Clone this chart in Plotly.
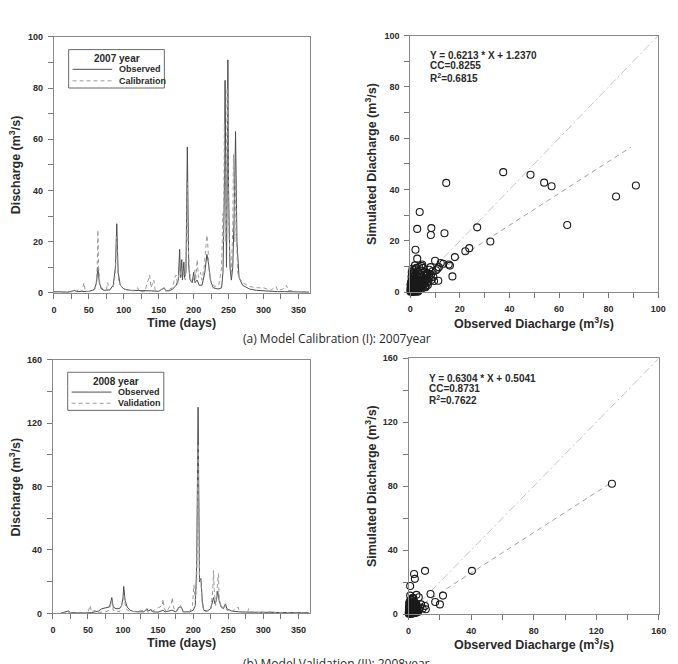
import plotly.graph_objects as go

# ---------------- DATA ----------------
# 2007 time series (day, discharge m3/s)
obs07_day = [0, 10, 20, 28, 30, 32, 40, 45, 50, 55, 58, 61, 63, 65, 68, 72, 80, 85, 88, 90, 92, 95, 100, 110, 120, 130, 140, 150, 158, 160, 165, 170, 175, 178, 180, 181, 183, 184, 186, 187, 189, 191, 193, 195, 198, 200, 202, 205, 208, 212, 216, 219, 221, 224, 228, 235, 240, 242, 244, 245, 246, 247, 248, 249, 250, 252, 254, 256, 258, 260, 262, 265, 270, 280, 290, 300, 310, 320, 330, 340, 350, 360, 365]
obs07_q = [0.5, 0.3, 0.3, 0.8, 1.0, 0.5, 0.6, 0.8, 0.6, 1.0, 1.5, 4, 10, 4, 1.5, 1.0, 1.2, 3, 10, 27, 8, 3, 1.5, 1.0, 1.0, 0.8, 0.8, 0.6, 2, 0.8, 0.8, 1.5, 3, 5, 17, 6, 13, 5, 12, 6, 8, 57, 10, 5, 4, 8, 4, 5, 3, 3, 8, 15, 12, 5, 2, 1.5, 2, 8, 40, 83, 30, 10, 40, 91, 40, 10, 5, 10, 30, 63, 20, 6, 3, 1.5, 1.0, 0.8, 0.6, 0.5, 0.5, 0.4, 0.3, 0.3, 0.3]

cal07_day = [0, 10, 20, 30, 38, 40, 43, 45, 55, 60, 62, 63, 64, 66, 70, 75, 77, 79, 85, 88, 89, 90, 91, 93, 98, 105, 115, 120, 122, 130, 136, 137, 139, 143, 145, 150, 158, 160, 170, 173, 175, 177, 180, 182, 184, 186, 188, 190, 191, 192, 194, 197, 200, 202, 203, 205, 207, 210, 212, 215, 218, 219, 220, 222, 225, 230, 236, 240, 242, 243, 244, 245, 246, 247, 248, 249, 250, 252, 254, 256, 257, 258, 259, 260, 261, 263, 265, 270, 280, 290, 300, 305, 310, 318, 320, 328, 333, 335, 340, 350, 360, 365]
cal07_q = [0.3, 0.5, 0.3, 0.5, 1.5, 0.5, 4, 0.5, 0.5, 2, 10, 24.5, 10, 3, 1.5, 1, 4, 1, 2, 8, 15, 22, 10, 4, 2, 1, 0.8, 2, 0.5, 0.5, 6, 7, 2, 5, 1, 0.8, 2, 0.8, 2, 6, 7, 3, 10, 6, 10, 8, 5, 20, 43, 20, 8, 4, 5, 9, 5, 13, 6, 8, 5, 10, 20, 22.5, 20, 10, 4, 2.5, 3, 10, 31, 20, 66, 40, 20, 30, 80, 60, 30, 12, 8, 25, 54, 40, 20, 45, 25, 8, 6, 4, 2.5, 2, 2, 1.5, 1, 2.5, 1, 1.5, 3, 1, 0.8, 0.5, 0.4, 0.4]

# 2008 time series
obs08_day = [12, 18, 22, 25, 35, 45, 55, 60, 65, 70, 75, 80, 82, 84, 86, 90, 95, 98, 100, 101, 103, 106, 110, 115, 120, 130, 134, 136, 140, 142, 150, 157, 160, 170, 175, 180, 183, 186, 195, 200, 203, 205, 207, 208, 209, 211, 213, 215, 220, 225, 228, 229, 231, 233, 235, 237, 240, 243, 246, 248, 255, 265, 280, 300, 320, 340, 360, 365]
obs08_q = [0.3, 1, 1.5, 0.5, 0.3, 0.3, 0.5, 1, 1.5, 3, 3.5, 4, 6, 10, 4, 3, 3, 5, 10, 17, 8, 4, 2, 1.2, 1, 1, 3, 1.5, 2.5, 1, 0.8, 2, 1, 2, 1, 4, 4, 1, 1, 2, 5, 30, 130, 60, 20, 22, 8, 2, 1.5, 3, 8, 10, 6, 8, 14, 8, 4, 3, 6, 3, 1.5, 1, 0.8, 0.6, 0.5, 0.4, 0.4, 0.4]

val08_day = [12, 20, 30, 50, 53, 55, 60, 62, 75, 80, 84, 86, 95, 100, 101, 104, 110, 134, 136, 140, 156, 157, 159, 162, 169, 170, 172, 175, 180, 182, 185, 195, 199, 201, 203, 205, 207, 208, 209, 211, 213, 216, 225, 228, 229, 230, 232, 235, 236, 237, 240, 245, 246, 248, 255, 264, 266, 278, 279, 281, 296, 297, 299, 312, 313, 315, 330, 350, 365]
val08_q = [0.2, 0.5, 0.3, 0.5, 5, 1, 2, 0.5, 1, 2, 8, 2, 1, 8, 12, 3, 1, 2, 0.5, 1, 5, 9, 3, 1, 6, 10, 4, 1, 3, 5, 1, 1, 5, 18, 8, 20, 107, 50, 22, 20, 5, 1, 2, 15, 27, 15, 5, 20, 25, 10, 4, 4, 5, 2, 1, 4, 1, 1, 3, 1, 0.5, 2, 0.5, 1, 2, 0.5, 0.5, 0.3, 0.3]

# 2007 scatter: observed vs simulated
sc07_obs = [37.5, 48.5, 54, 57, 83, 91, 63.3, 14.5, 3.8, 2.8, 8.5, 8.3, 13.8, 27, 32.3, 22.2, 23.8, 18, 2.1, 2.8, 10, 17, 11.3, 15.5, 16, 13.3, 11.5, 11, 8.2, 4.5, 5.2, 2.0, 7.8, 8.5, 6, 9.3, 6.5, 12.3, 1.2, 1.5,
            0.1, 0.2, 0.3, 0.4, 0.5, 0.6, 0.7, 0.8, 0.9, 1.0, 1.1, 1.2, 1.3, 1.4, 1.5, 1.6, 1.7, 1.8, 1.9, 2.0, 2.1, 2.2, 2.3, 2.4, 2.5, 2.6, 2.7, 2.8, 2.9, 3.0, 3.1, 3.2, 3.3, 3.4, 3.5, 3.6, 3.7, 3.8, 3.9, 4.0, 4.2, 4.3, 4.5, 4.7, 4.9, 5.0, 5.3, 5.5, 5.8, 6.0, 6.2, 6.5, 6.8, 7.0, 7.3, 7.6,
            0.3, 0.5, 0.2, 0.7, 0.4, 0.9, 1.0, 0.6, 0.8, 1.2, 1.7, 2.2, 2.7, 3.2, 0.05, 0.15, 0.25, 0.35, 0.45, 0.55, 0.65, 0.75, 0.85, 0.95, 1.05, 1.15, 1.25, 1.35, 1.45, 1.55, 1.65, 1.75, 1.85, 1.95, 2.05, 2.15, 2.35, 2.45, 2.55, 2.65, 2.75, 2.85, 3.05, 3.15, 3.35, 3.45, 3.55, 4.1, 4.4, 4.6, 5.1, 5.4, 5.6, 6.1, 6.6, 7.1, 7.8, 8.4, 9.0, 9.6, 10.4, 1.3, 0.9, 2.5, 3.6, 1.9, 4.8]
sc07_sim = [46.8, 45.8, 42.7, 41.3, 37.3, 41.6, 26.2, 42.6, 31.3, 24.7, 25.0, 22.3, 23.0, 25.3, 19.8, 16.0, 17.2, 13.7, 16.6, 13.1, 12.3, 6.2, 4.5, 10.8, 10.4, 11.1, 9.8, 9.2, 9.8, 10.3, 9.5, 9.0, 7.2, 4.8, 2.3, 6.0, 6.5, 11.4, 7.5, 5.5,
            0.2, 0.5, 1.0, 0.3, 1.8, 0.6, 2.5, 1.2, 3.2, 0.8, 4.0, 1.5, 2.8, 5.0, 0.5, 3.5, 6.2, 2.0, 4.5, 1.0, 7.0, 3.0, 5.5, 0.7, 2.2, 4.0, 6.5, 1.5, 3.5, 8.0, 2.5, 5.0, 0.9, 4.2, 7.0, 1.8, 3.0, 6.0, 2.0, 4.8, 8.5, 1.2, 3.5, 6.0, 2.5, 5.0, 7.5, 3.2, 4.5, 8.0, 2.0, 5.5, 3.5, 6.8, 4.2, 8.8,
            4.0, 6.0, 2.8, 5.0, 3.5, 7.0, 6.0, 7.8, 0.2, 0.1, 0.3, 0.4, 0.2, 0.3, 1.5, 3.0, 0.8, 2.2, 1.4, 0.4, 1.6, 3.8, 2.4, 1.9, 2.6, 0.6, 3.3, 1.1, 2.4, 1.7, 0.9, 2.9, 1.3, 3.8, 2.1, 1.6, 2.6, 1.9, 3.2, 1.2, 2.7, 3.9, 1.4, 3.6, 2.9, 1.6, 2.4, 3.1, 2.2, 4.0, 1.8, 2.8, 6.6, 4.4, 7.2, 2.8, 5.6, 6.8, 8.2, 4.4, 8.6, 8.6, 9.2, 9.5, 9.8, 10.5, 10.8]

# 2008 scatter
sc08_obs = [130, 40.5, 10.5, 3.5, 4, 1, 14, 22, 17, 20, 10.5, 11, 5, 6.5, 8, 1, 3, 7.5, 5.5, 6.5, 9,
            0.1, 0.3, 0.5, 0.7, 0.9, 1.1, 1.3, 1.5, 1.7, 1.9, 2.1, 2.3, 2.5, 2.7, 2.9, 3.1, 3.3, 3.5, 3.7, 3.9, 4.1, 4.3, 4.6, 4.9, 0.2, 0.4, 0.6, 0.8, 1.0, 1.2, 1.4, 1.6, 1.8, 2.0, 2.2,
            0.15, 0.35, 0.55, 0.75, 0.95, 1.15, 1.35, 1.55, 1.75, 1.95, 2.15, 2.35, 2.55, 2.75, 2.95, 3.15, 3.4, 3.6, 3.8, 4.0, 4.4, 4.8, 5.2, 5.6, 6.0, 0.25, 0.45, 0.65, 0.85, 1.05, 1.25, 1.45, 1.65, 1.85, 2.05, 2.45, 2.85, 3.25, 3.65, 4.2, 4.5, 3.0, 2.4]
sc08_sim = [81.5, 27, 27, 25, 22, 17.5, 12.5, 11.5, 7.5, 6, 5, 3, 12, 10.5, 6, 11.5, 10, 4, 1.5, 2.5, 3.5,
            0.2, 0.8, 1.5, 0.4, 2.5, 1.0, 3.5, 0.6, 2.0, 4.5, 1.2, 3.0, 5.5, 0.8, 2.2, 6.5, 1.5, 3.8, 7.5, 2.6, 4.8, 1.0, 3.2, 6.0, 3.0, 5.0, 6.5, 8.0, 4.2, 5.8, 7.2, 9.0, 3.2, 6.8, 8.5,
            1.2, 2.0, 0.3, 1.8, 0.9, 2.8, 1.6, 3.6, 0.5, 1.9, 2.6, 0.7, 1.4, 3.4, 0.4, 2.0, 0.9, 1.7, 0.6, 2.3, 1.5, 0.8, 2.0, 3.0, 1.2, 4.2, 7.0, 2.9, 5.4, 6.2, 0.2, 4.6, 1.3, 6.0, 0.2, 4.4, 4.9, 5.2, 4.4, 6.4, 5.4, 9.5, 10.0]

# regression coefficients (slope, intercept) and fitted x-extent
reg07 = (0.6213, 1.2370, 89.0)
reg08 = (0.6304, 0.5041, 130.0)

stats07 = ["Y = 0.6213 * X + 1.2370", "CC=0.8255", "R<sup>2</sup>=0.6815"]
stats08 = ["Y = 0.6304 * X + 0.5041", "CC=0.8731", "R<sup>2</sup>=0.7622"]

# ---------------- FIGURE ----------------
FONT = "Liberation Sans, Arial, sans-serif"
TXT = "#2a2a2a"

fig = go.Figure()

def line(x, y, xa, ya, color, dash="solid", width=1):
    fig.add_trace(go.Scatter(x=x, y=y, mode="lines", xaxis=xa, yaxis=ya,
                             line=dict(color=color, width=width, dash=dash),
                             showlegend=False, hoverinfo="skip"))

OBS_C = "#4d4d4d"
SIM_C = "#9a9a9a"
line(obs07_day, obs07_q, "x", "y", OBS_C)
line(cal07_day, cal07_q, "x", "y", SIM_C, dash="4px,3px")
line(obs08_day, obs08_q, "x3", "y3", OBS_C)
line(val08_day, val08_q, "x3", "y3", SIM_C, dash="4px,3px")

# scatter panels
for (xa, ya, ox, sy, reg, mx) in [("x2", "y2", sc07_obs, sc07_sim, reg07, 100), ("x4", "y4", sc08_obs, sc08_sim, reg08, 160)]:
    line([0, mx], [0, mx], xa, ya, "#c4c4c4", dash="8px,3px,2px,3px")
    a, b, xe = reg
    line([0, xe], [b, a * xe + b], xa, ya, "#a0a0a0", dash="5px,4px")
    fig.add_trace(go.Scatter(x=ox, y=sy, mode="markers", xaxis=xa, yaxis=ya,
                             marker=dict(symbol="circle-open", size=7, color="#1a1a1a", line=dict(width=1.1)),
                             cliponaxis=False, showlegend=False, hoverinfo="skip"))

def axis(domain, rng, dtick, minor, anchor):
    return dict(domain=domain, range=rng, tick0=0, dtick=dtick, anchor=anchor,
                ticks="outside", ticklen=5, tickwidth=1, tickcolor="#777",
                showline=True, linecolor="#8a8a8a", linewidth=1, mirror=True,
                showgrid=False, zeroline=False, ticklabelstandoff=3,
                tickfont=dict(family=FONT, size=9, color=TXT, weight="bold"),
                minor=dict(dtick=minor, tick0=0, ticks="outside", ticklen=5, tickcolor="#777", showgrid=False))

fig.update_layout(
    width=678, height=664, margin=dict(l=0, r=0, t=0, b=0),
    paper_bgcolor="white", plot_bgcolor="white", showlegend=False,
    xaxis=axis([0.0763, 0.4597], [0, 366], 50, 25, "y"),
    yaxis=axis([0.5598, 0.9514], [0, 100], 20, 10, "x"),
    xaxis2=axis([0.6106, 0.9823], [0, 100], 20, 10, "y2"),
    yaxis2=axis([0.5607, 0.9533], [0, 100], 20, 10, "x2"),
    xaxis3=axis([0.0748, 0.4597], [0, 366], 50, 25, "y3"),
    yaxis3=axis([0.0697, 0.4578], [0, 160], 40, 20, "x3"),
    xaxis4=axis([0.6081, 0.9833], [0, 160], 40, 20, "y4"),
    yaxis4=axis([0.0688, 0.4598], [0, 160], 40, 20, "x4"),
)

shapes = []
ann = []

def legend_box(xr, yr, title, items):
    xd, yd = xr + " domain", yr + " domain"
    shapes.append(dict(type="rect", xref=xd, yref=yd, x0=0.0577, x1=0.432, y0=0.80, y1=0.95,
                       line=dict(color="#6a6a6a", width=1), fillcolor="white", layer="above"))
    ann.append(dict(xref=xd, yref=yd, x=0.245, y=0.915, text=title, showarrow=False,
                    xanchor="center", yanchor="middle", font=dict(family=FONT, size=10, color=TXT, weight="bold")))
    for (lab, yy, col, dash) in items:
        shapes.append(dict(type="line", xref=xd, yref=yd, x0=0.073, x1=0.228, y0=yy, y1=yy,
                           line=dict(color=col, width=1, dash=dash), layer="above"))
        ann.append(dict(xref=xd, yref=yd, x=0.247, y=yy, text=lab, showarrow=False,
                        xanchor="left", yanchor="middle", font=dict(family=FONT, size=9, color=TXT, weight="bold")))

legend_box("x", "y", "2007 year", [("Observed", 0.873, OBS_C, "solid"), ("Calibration", 0.828, SIM_C, "4px,3px")])
legend_box("x3", "y3", "2008 year", [("Observed", 0.872, OBS_C, "solid"), ("Validation", 0.828, SIM_C, "4px,3px")])

for (xr, yr, st) in [("x2", "y2", stats07), ("x4", "y4", stats08)]:
    for s, yy in zip(st, [0.921, 0.882, 0.835]):
        ann.append(dict(xref=xr + " domain", yref=yr + " domain", x=0.072, y=yy, text=s, showarrow=False,
                        xanchor="left", yanchor="middle", font=dict(family=FONT, size=10, color=TXT, weight="bold")))

def ptxt(x, y, text, size=12.5, angle=0, bold=True, family=FONT):
    ann.append(dict(xref="paper", yref="paper", x=x / 678, y=1 - y / 664, text=text, showarrow=False,
                    xanchor="center", yanchor="middle", textangle=angle,
                    font=dict(family=family, size=size, color=TXT, weight="bold" if bold else "normal")))

# axis titles
ptxt(181.7, 323, "Time (days)")
ptxt(540, 323, "Observed Diacharge (m<sup>3</sup>/s)")
ptxt(181.2, 648, "Time (days)")
ptxt(539.5, 649, "Observed Diacharge (m<sup>3</sup>/s)")
ptxt(12, 162, "Discharge (m<sup>3</sup>/s)", angle=-90)
ptxt(373.5, 161, "Simulated Diacharge (m<sup>3</sup>/s)", angle=-90)
ptxt(12, 489, "Discharge (m<sup>3</sup>/s)", angle=-90)
ptxt(373.5, 488, "Simulated Diacharge (m<sup>3</sup>/s)", angle=-90)
# captions
ptxt(339, 339, "(a) Model Calibration (I): 2007year", size=12, bold=False, family="Open Sans, sans-serif")
ptxt(339, 669, "(b) Model Validation (II): 2008year", size=12, bold=False, family="Open Sans, sans-serif")

fig.update_layout(shapes=shapes, annotations=ann)
fig.write_html("out.html")
